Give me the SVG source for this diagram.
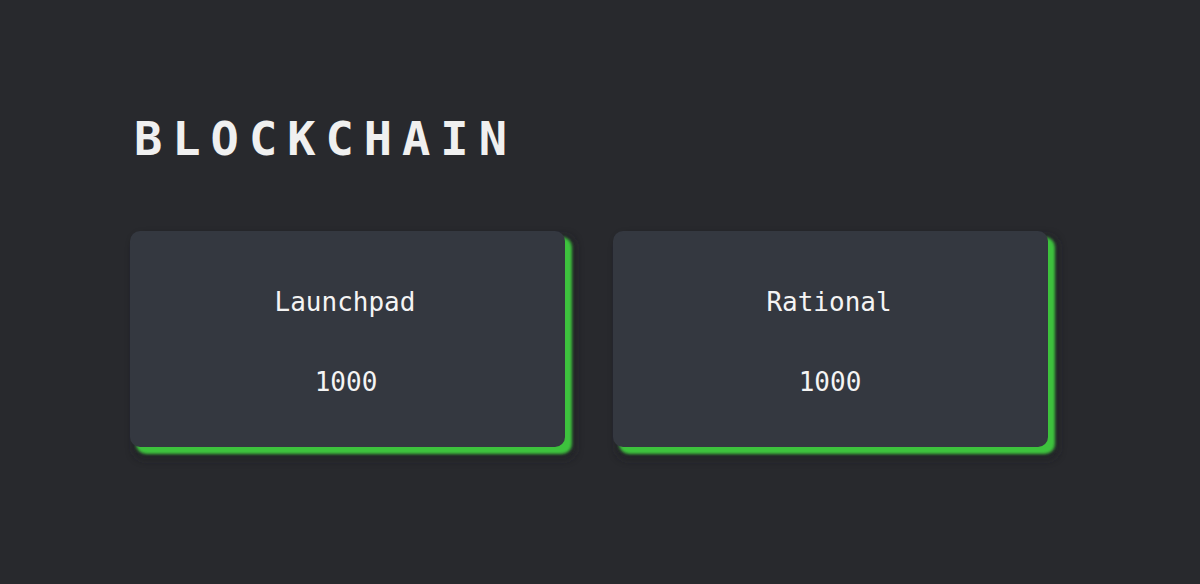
<svg xmlns="http://www.w3.org/2000/svg" width="1200" height="584" viewBox="0 0 1200 584">
<defs>
<filter id="glow" x="-10%" y="-10%" width="120%" height="130%">
<feGaussianBlur stdDeviation="1.6"/>
</filter>
<filter id="soft" x="-10%" y="-10%" width="120%" height="130%">
<feGaussianBlur stdDeviation="4"/>
</filter>
</defs>
<style>
.title{font-family:"DejaVu Sans Mono","Liberation Mono",monospace;font-weight:bold;font-size:47px;fill:#f0f0f0;letter-spacing:10px}
.card{fill:#343840}
.shadow{fill:#3cc23c}
.dark{fill:#1e1f22;opacity:0.6}
.lbl{font-family:"DejaVu Sans Mono","Liberation Mono",monospace;font-size:26px;fill:#f4f4f4;text-anchor:middle}
</style>
<rect width="1200" height="584" fill="#28292d"/>
<text class="title" x="134" y="155">BLOCKCHAIN</text>
<g id="node-launchpad">
<rect class="dark" x="134" y="236" width="441" height="223" rx="10" filter="url(#soft)"/>
<rect class="shadow" x="136" y="237" width="436" height="217" rx="10" filter="url(#glow)"/>
<rect class="card" x="130" y="231" width="435" height="216" rx="10"/>
<text class="lbl" x="345" y="311">Launchpad</text>
<text class="lbl" x="346" y="391">1000</text>
</g>
<g id="node-rational">
<rect class="dark" x="617" y="236" width="441" height="223" rx="10" filter="url(#soft)"/>
<rect class="shadow" x="619" y="237" width="436" height="217" rx="10" filter="url(#glow)"/>
<rect class="card" x="613" y="231" width="435" height="216" rx="10"/>
<text class="lbl" x="829" y="311">Rational</text>
<text class="lbl" x="830" y="391">1000</text>
</g>
<g id="connectors"></g>
</svg>
